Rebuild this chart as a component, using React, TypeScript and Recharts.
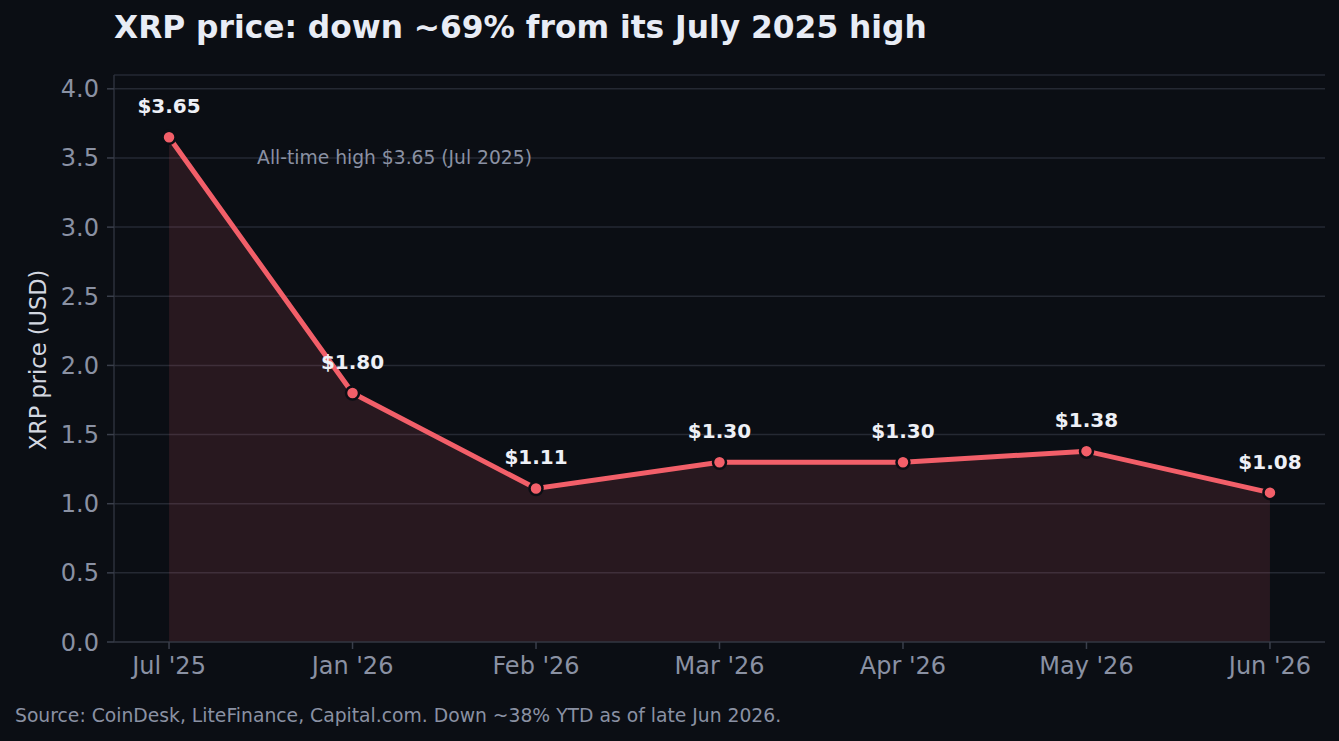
import React from 'react';
import {
  ComposedChart,
  Area,
  Line,
  XAxis,
  YAxis,
  CartesianGrid,
  LabelList,
  ReferenceDot,
} from 'recharts';

const months = ["Jul '25", "Jan '26", "Feb '26", "Mar '26", "Apr '26", "May '26", "Jun '26"];
const prices = [3.65, 1.8, 1.11, 1.3, 1.3, 1.38, 1.08];
const yTicks = [0, 0.5, 1, 1.5, 2, 2.5, 3, 3.5, 4];
const xTicks = [0, 1, 2, 3, 4, 5, 6];
const title = 'XRP price: down ~69% from its July 2025 high';
const yLabel = 'XRP price (USD)';
const source = 'Source: CoinDesk, LiteFinance, Capital.com. Down ~38% YTD as of late Jun 2026.';
const annotation = 'All-time high $3.65 (Jul 2025)';
const annotationX = 0.48;
const annotationY = 3.5;

const data = months.map((m, i) => ({ idx: i, month: m, price: prices[i] }));

const BG = '#0b0e14';
const RED = '#f25f69';
const GRID = '#252933';
const AXIS = '#2c303b';
const TICK = '#8a91a3';
const FONT = 'DejaVu Sans, sans-serif';

const PriceLabel = (props: any) => {
  const { x, y, value } = props;
  return (
    <text
      x={x}
      y={y - 24}
      textAnchor="middle"
      fill="#eef0f6"
      fontFamily={FONT}
      fontSize={20}
      fontWeight="bold"
    >
      {`$${Number(value).toFixed(2)}`}
    </text>
  );
};

const AnnotationLabel = (props: any) => {
  const vb = props.viewBox || {};
  return (
    <text
      x={vb.x}
      y={vb.y}
      dominantBaseline="central"
      textAnchor="start"
      fill={TICK}
      fontFamily={FONT}
      fontSize={18.7}
    >
      {annotation}
    </text>
  );
};

export default function App() {
  return (
    <div
      style={{
        position: 'absolute',
        left: 0,
        top: 0,
        width: 1339,
        height: 741,
        background: BG,
        overflow: 'hidden',
      }}
    >
      <ComposedChart
        width={1339}
        height={741}
        data={data}
        margin={{ top: 75, right: 14, bottom: 59, left: 54 }}
      >
        <CartesianGrid vertical={false} stroke={GRID} strokeWidth={1.5} />
        <XAxis
          dataKey="idx"
          type="number"
          domain={[-0.3, 6.3]}
          ticks={xTicks}
          interval={0}
          tickFormatter={(v: number) => months[v]}
          height={40}
          tickSize={7}
          tickMargin={8}
          stroke={AXIS}
          axisLine={{ stroke: AXIS, strokeWidth: 1.5 }}
          tickLine={{ stroke: '#3a3f4b', strokeWidth: 1.5 }}
          tick={{ fill: TICK, fontSize: 24, fontFamily: FONT }}
          allowDataOverflow
        />
        <YAxis
          type="number"
          domain={[0, 4.1]}
          ticks={yTicks}
          interval={0}
          tickFormatter={(v: number) => v.toFixed(1)}
          width={60}
          tickSize={7}
          tickMargin={8}
          stroke={AXIS}
          axisLine={{ stroke: AXIS, strokeWidth: 1.5 }}
          tickLine={{ stroke: '#3a3f4b', strokeWidth: 1.5 }}
          tick={{ fill: TICK, fontSize: 24, fontFamily: FONT }}
          allowDataOverflow
        />
        <Area
          type="linear"
          dataKey="price"
          fill={RED}
          fillOpacity={0.13}
          stroke="none"
          isAnimationActive={false}
          dot={false}
          activeDot={false}
        />
        <Line
          type="linear"
          dataKey="price"
          stroke={RED}
          strokeWidth={5}
          dot={{ r: 6.5, fill: RED, stroke: BG, strokeWidth: 2.5 }}
          activeDot={false}
          isAnimationActive={false}
        >
          <LabelList dataKey="price" content={PriceLabel} />
        </Line>
        <ReferenceDot
          x={annotationX}
          y={annotationY}
          r={0}
          fill="none"
          stroke="none"
          label={{ content: AnnotationLabel }}
        />
      </ComposedChart>
      <svg
        width={1339}
        height={741}
        style={{ position: 'absolute', left: 0, top: 0, pointerEvents: 'none' }}
      >
        <text
          x={114}
          y={38}
          fill="#e8ecf5"
          fontFamily={FONT}
          fontSize={31.3}
          fontWeight="bold"
        >
          {title}
        </text>
        <text
          x={0}
          y={0}
          transform="translate(38,360) rotate(-90)"
          textAnchor="middle"
          dominantBaseline="central"
          fill="#d3d7e0"
          fontFamily={FONT}
          fontSize={22.5}
        >
          {yLabel}
        </text>
        <text x={15} y={722} fill={TICK} fontFamily={FONT} fontSize={18.75}>
          {source}
        </text>
      </svg>
    </div>
  );
}
